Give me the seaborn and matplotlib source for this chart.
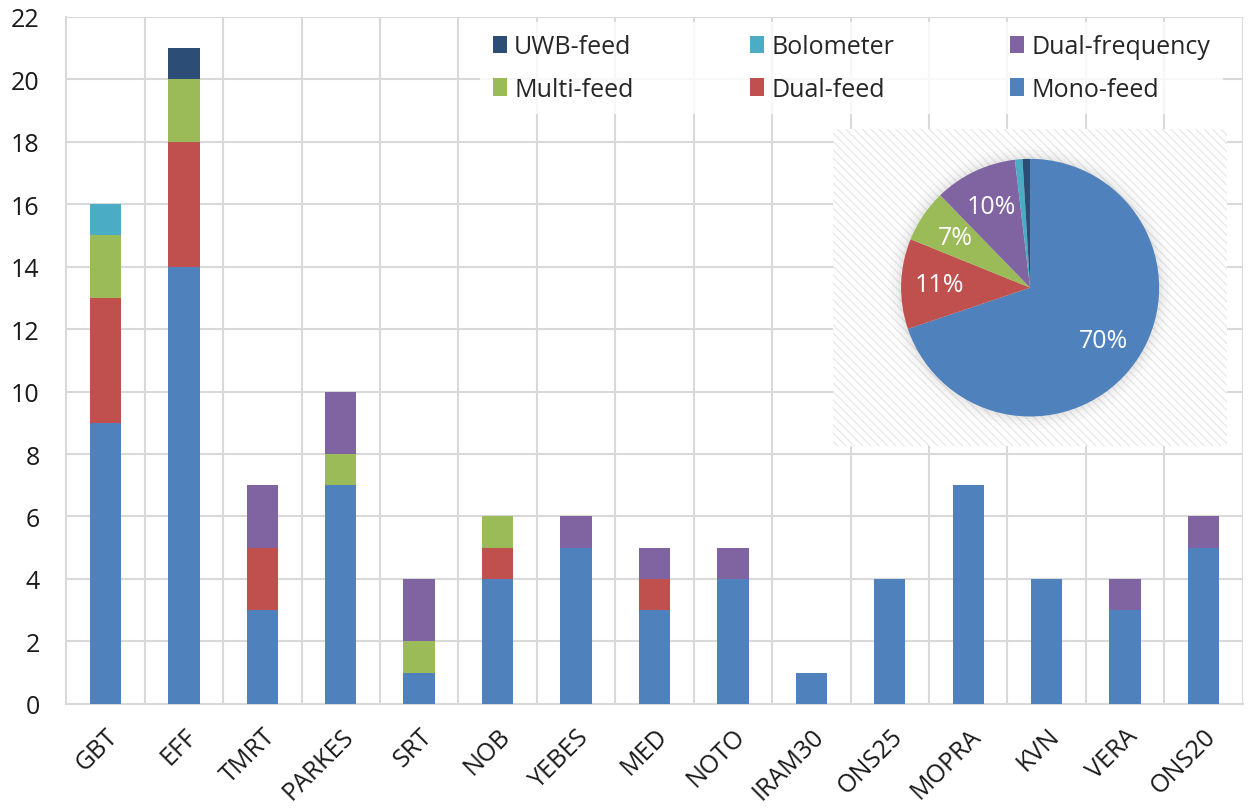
import numpy as np
import pandas as pd
import matplotlib
matplotlib.use("Agg")
import matplotlib.pyplot as plt
import seaborn as sns
from matplotlib.patches import Rectangle, Patch, Circle

# Données
telescopes = ["GBT", "EFF", "TMRT", "PARKES", "SRT", "NOB", "YEBES", "MED",
              "NOTO", "IRAM30", "ONS25", "MOPRA", "KVN", "VERA", "ONS20"]
mono_feed = [9, 14, 3, 7, 1, 4, 5, 3, 4, 1, 4, 7, 4, 3, 5]
dual_feed = [4, 4, 2, 0, 0, 1, 0, 1, 0, 0, 0, 0, 0, 0, 0]
multi_feed = [2, 2, 0, 1, 1, 1, 0, 0, 0, 0, 0, 0, 0, 0, 0]
dual_freq = [0, 0, 2, 2, 2, 0, 1, 1, 1, 0, 0, 0, 0, 1, 1]
bolometer = [1, 0, 0, 0, 0, 0, 0, 0, 0, 0, 0, 0, 0, 0, 0]
uwb_feed = [0, 1, 0, 0, 0, 0, 0, 0, 0, 0, 0, 0, 0, 0, 0]

series_names = ["Mono-feed", "Dual-feed", "Multi-feed", "Dual-frequency", "Bolometer", "UWB-feed"]
series_vals = [mono_feed, dual_feed, multi_feed, dual_freq, bolometer, uwb_feed]
colors = {"Mono-feed": "#4F81BD", "Dual-feed": "#C0504D", "Multi-feed": "#9BBB59",
          "Dual-frequency": "#8064A2", "Bolometer": "#4BACC6", "UWB-feed": "#2C4D75"}

df = pd.DataFrame(dict(zip(series_names, series_vals)), index=telescopes)
cum = df.cumsum(axis=1)

sns.set_style("white")
plt.rcParams["font.family"] = ["Open Sans", "DejaVu Sans"]
grid_col = "#d9d9d9"
fs = 18

fig = plt.figure(figsize=(12.49, 8.12), dpi=100)
ax = fig.add_axes([0.053, 0.132, 0.942, 0.846])

# Barres empilées : on trace les cumuls du haut vers le bas
for name in reversed(series_names):
    sns.barplot(x=telescopes, y=cum[name].values, color=colors[name], width=0.4,
                saturation=1, ax=ax, zorder=3, linewidth=0)

ax.set_xlim(-0.5, len(telescopes) - 0.5)
ax.set_ylim(0, 22)
ax.set_yticks(range(0, 23, 2))
ax.set_xticks(np.arange(len(telescopes)) + 0.5, minor=True)
ax.grid(True, axis="y", color=grid_col, linewidth=1.5, zorder=0)
ax.grid(True, axis="x", which="minor", color=grid_col, linewidth=1.5, zorder=0)
ax.grid(False, axis="x", which="major")
ax.tick_params(axis="both", which="both", length=0, labelsize=fs, colors="#1a1a1a")
ax.tick_params(axis="y", pad=19)
ax.set_xticks(range(len(telescopes)))
ax.set_xticklabels(telescopes, rotation=45, ha="right", rotation_mode="anchor")
ax.tick_params(axis="x", pad=14)
for s in ax.spines.values():
    s.set_color(grid_col)
    s.set_linewidth(1.5)
ax.spines["top"].set_visible(False)
ax.spines["right"].set_visible(False)
ax.set_xlabel("")
ax.set_ylabel("")

# Légende
leg_order = ["UWB-feed", "Multi-feed", "Bolometer", "Dual-feed", "Dual-frequency", "Mono-feed"]
handles = [Patch(facecolor=colors[n], edgecolor="none") for n in leg_order]
leg = ax.legend(handles, leg_order, ncol=3, loc="upper right", bbox_to_anchor=(0.983, 0.993),
                frameon=True, fontsize=fs, handlelength=0.55, handleheight=0.7,
                handletextpad=0.3, columnspacing=4.65, labelspacing=0.7,
                borderpad=0.5, borderaxespad=0.0, fancybox=False)
leg.get_frame().set_facecolor("white")
leg.get_frame().set_edgecolor("none")
leg.set_zorder(5)

# Camembert en encart
pie_ax = fig.add_axes([0.667, 0.4495, 0.3155, 0.390])
pie_ax.add_patch(Rectangle((0, 0), 1, 1, transform=pie_ax.transAxes, facecolor="white",
                           edgecolor="#e9e9e9", hatch="\\\\\\\\", linewidth=0, zorder=0))
for r, a in [(1.10, 0.03), (1.07, 0.04), (1.04, 0.05), (1.02, 0.06)]:
    pie_ax.add_patch(Circle((0, 0), r, facecolor="#888888", alpha=a, edgecolor="none", zorder=1))
totals = df.sum(axis=0)
wedges, texts, autotexts = pie_ax.pie(
    totals.values, colors=[colors[n] for n in series_names], startangle=90,
    counterclock=False, radius=1.0, pctdistance=0.7,
    autopct=lambda p: f"{p:.0f}%" if p > 3 else "",
    wedgeprops=dict(linewidth=0), textprops=dict(color="white", fontsize=fs))
for w in wedges:
    w.set_zorder(2)
for t in autotexts:
    t.set_zorder(3)
pie_ax.set_xlim(-1.527, 1.527)
pie_ax.set_ylim(-1.229, 1.229)
pie_ax.set_aspect("auto")
pie_ax.axis("off")

fig.savefig("out.png", dpi=100, facecolor="white")
